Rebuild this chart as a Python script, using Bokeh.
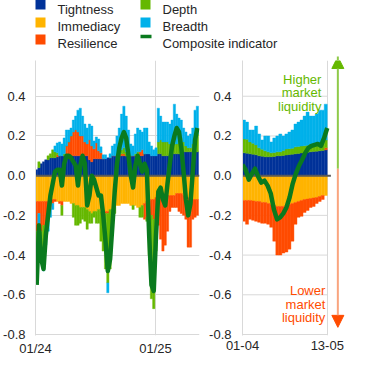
import numpy as np
import pandas as pd
from bokeh.plotting import figure
from bokeh.layouts import column, row
from bokeh.models import (Range1d, FixedTicker, PrintfTickFormatter, DatetimeTickFormatter,
                          Label, Arrow, NormalHead)
from bokeh.embed import file_html
from bokeh.resources import INLINE
from bokeh.core.properties import value

# ---------------- data ----------------
series_names = ["Tightness", "Immediacy", "Resilience", "Depth", "Breadth"]
series_colors = ["#003299", "#ffb400", "#ff4b00", "#65b800", "#00b1ea"]
composite_name = "Composite indicator"
composite_color = "#0a7a1e"

# left panel: weekly values, weeks starting 2024-01-01
left_first_week = "2024-01-01"
tightness_l = [0.03, 0.04, 0.06, 0.07, 0.08, 0.08, 0.09, 0.09, 0.09, 0.095,
               0.1, 0.1, 0.1, 0.1, 0.1, 0.1, 0.1, 0.1, 0.1, 0.1,
               0.1, 0.1, 0.1, 0.08, 0.07, 0.085, 0.085, 0.085, 0.085, 0.085,
               0.085, 0.09, 0.09, 0.1, 0.1, 0.1, 0.1, 0.1, 0.1, 0.1,
               0.1, 0.1, 0.1, 0.1, 0.1, 0.1, 0.1, 0.11, 0.11, 0.11,
               0.1, 0.1, 0.1, 0.11, 0.11, 0.1, 0.1, 0.1, 0.1, 0.11,
               0.11, 0.11, 0.11, 0.11, 0.12, 0.12, 0.12, 0.12, 0.12, 0.12, 0.12]
immediacy_l = [-0.13, -0.13, -0.13, -0.13, -0.13, -0.13, -0.12, -0.12, -0.12, -0.13,
               -0.13, -0.13, -0.13, -0.13, -0.13, -0.14, -0.14, -0.15, -0.15, -0.16,
               -0.16, -0.16, -0.17, -0.18, -0.19, -0.18, -0.18, -0.17, -0.18, -0.18,
               -0.18, -0.18, -0.17, -0.17, -0.16, -0.15, -0.15, -0.14, -0.14, -0.14,
               -0.14, -0.15, -0.15, -0.15, -0.16, -0.16, -0.15, -0.14, -0.13, -0.13,
               -0.12, -0.12, -0.11, -0.1, -0.1, -0.1, -0.1, -0.1, -0.1, -0.1,
               -0.1, -0.09, -0.09, -0.09, -0.1, -0.1, -0.11, -0.11, -0.12, -0.12, -0.12]
resilience_l = [-0.15, -0.06, -0.15, -0.12, -0.12, -0.1, -0.05, -0.02, -0.01, 0.01,
                -0.01, -0.02, 0.0, 0.05, 0.07, 0.1, 0.12, 0.13, 0.12, 0.1,
                0.1, 0.07, 0.06, 0.1, 0.08, 0.05, 0.08, 0.04, 0.03, 0.0,
                -0.01, -0.01, 0.0, 0.0, 0.0, 0.0, 0.0, 0.01, 0.01, 0.0,
                0.0, 0.0, 0.0, 0.0, 0.0, 0.02, 0.03, -0.08, -0.08, -0.07,
                -0.08, -0.1, -0.15, -0.15, -0.22, -0.28, -0.25, -0.18, -0.08, -0.06,
                -0.06, -0.07, -0.09, -0.1, -0.1, -0.12, -0.25, -0.25, -0.1, -0.09, -0.08]
depth_l = [-0.2, 0.03, -0.1, -0.13, -0.05, 0.02, 0.02, 0.04, 0.03, 0.01,
           0.0, -0.05, 0.01, 0.0, 0.0, 0.0, -0.07, -0.1, -0.1, -0.08,
           -0.06, -0.07, -0.1, -0.06, -0.05, -0.03, -0.06, -0.07, -0.15, -0.2,
           -0.28, -0.35, -0.3, -0.1, -0.03, 0.0, 0.01, 0.02, 0.03, 0.02,
           0.01, 0.0, -0.02, 0.01, 0.02, -0.05, -0.06, 0.0, -0.02, -0.2,
           -0.42, -0.45, -0.12, 0.06, 0.07, 0.07, 0.07, 0.07, 0.06, 0.05,
           0.05, 0.05, 0.08, 0.08, 0.05, 0.03, 0.02, 0.02, 0.04, 0.09, 0.09]
breadth_l = [-0.05, -0.05, -0.05, -0.1, -0.05, -0.05, -0.04, -0.03, 0.03, 0.05,
             0.07, 0.06, 0.08, 0.08, 0.06, 0.04, 0.06, 0.07, 0.11, 0.14,
             0.1, 0.09, 0.08, 0.08, 0.1, 0.04, 0.03, 0.06, 0.03, 0.02,
             0.02, -0.05, 0.02, 0.05, 0.06, 0.1, 0.13, 0.18, 0.21, 0.18,
             0.12, 0.06, 0.05, 0.1, 0.12, 0.11, 0.09, 0.13, 0.13, 0.06,
             0.05, 0.03, 0.04, 0.17, 0.12, 0.1, 0.1, 0.1, 0.1, 0.12,
             0.2, 0.15, 0.1, 0.09, 0.07, 0.07, 0.06, 0.07, 0.08, 0.12, 0.14]
composite_l = [-0.55, -0.25, -0.42, -0.47, -0.3, -0.2, -0.1, -0.04, 0.02, 0.03,
               0.03, -0.05, 0.06, 0.1, 0.1, 0.09, 0.07, 0.05, -0.05, 0.05,
               0.1, 0.06, -0.15, -0.1, 0.0, -0.02, -0.06, -0.1, -0.1, -0.2,
               -0.33, -0.48, -0.42, -0.25, -0.08, 0.06, 0.14, 0.19, 0.22, 0.19,
               0.1, 0.0, -0.06, 0.05, 0.1, 0.06, 0.02, 0.06, 0.03, -0.3,
               -0.55, -0.58, -0.3, -0.08, -0.06, -0.12, -0.15, -0.04, 0.06, 0.15,
               0.2, 0.24, 0.22, 0.14, 0.02, -0.12, -0.2, -0.14, 0.02, 0.18, 0.24]
left_ticks = ["2024-01-01", "2025-01-01"]

# right panel: business days 01-04-2025 .. 13-05-2025 (TARGET closing days excluded)
right_first_day = "2025-04-01"
right_last_day = "2025-05-13"
right_closed_days = ["2025-04-18", "2025-04-21", "2025-05-01"]
tightness_r = [0.115, 0.113, 0.11, 0.108, 0.105, 0.1, 0.098, 0.095, 0.095, 0.095,
               0.097, 0.1, 0.1, 0.102, 0.104, 0.106, 0.108, 0.11, 0.112, 0.114,
               0.116, 0.118, 0.12, 0.122, 0.123, 0.125, 0.127, 0.13]
immediacy_r = [-0.125, -0.125, -0.125, -0.127, -0.13, -0.13, -0.135, -0.135, -0.14, -0.145,
               -0.15, -0.155, -0.155, -0.155, -0.15, -0.145, -0.14, -0.135, -0.13, -0.125,
               -0.12, -0.118, -0.115, -0.112, -0.11, -0.105, -0.1, -0.1]
resilience_r = [-0.105, -0.12, -0.095, -0.098, -0.1, -0.105, -0.105, -0.105, -0.105, -0.115,
                -0.18, -0.245, -0.245, -0.235, -0.235, -0.225, -0.19, -0.11, -0.08, -0.08,
                -0.065, -0.057, -0.045, -0.043, -0.03, -0.025, -0.02, 0.01]
depth_r = [0.07, 0.07, 0.06, 0.055, 0.05, 0.04, 0.035, 0.03, 0.025, 0.02,
           0.02, 0.02, 0.02, 0.025, 0.03, 0.03, 0.03, 0.035, 0.035, 0.035,
           0.035, 0.035, 0.04, 0.04, 0.04, 0.04, 0.04, 0.04]
breadth_r = [0.095, 0.087, 0.06, 0.067, 0.095, 0.07, 0.047, 0.075, 0.08, 0.055,
             0.073, 0.08, 0.09, 0.073, 0.076, 0.084, 0.092, 0.115, 0.123, 0.131,
             0.149, 0.167, 0.14, 0.138, 0.147, 0.165, 0.163, 0.18]
composite_r = [0.055, 0.03, -0.02, 0.01, 0.035, -0.005, -0.035, -0.025, -0.05, -0.09,
               -0.17, -0.22, -0.21, -0.19, -0.16, -0.11, -0.04, 0.01, 0.05, 0.08,
               0.115, 0.14, 0.15, 0.155, 0.16, 0.15, 0.19, 0.24]

y_ticks = [-0.8, -0.6, -0.4, -0.2, 0.0, 0.2, 0.4]
higher_text = ["Higher", "market", "liquidity"]
lower_text = ["Lower", "market", "liquidity"]

# ---------------- styling ----------------
FONT = "Liberation Sans"
FS = "13px"
TXT = "#262626"
GRID = "#d9d9d9"
ZERO = "#595959"
GREEN_TXT = "#65b800"
ORANGE_TXT = "#ff4b00"
PANEL_H = 306


def stack(components):
    pos = np.zeros(len(components[0]))
    neg = np.zeros(len(components[0]))
    out = []
    for comp in components:
        v = np.asarray(comp, dtype=float)
        bottom = np.where(v >= 0, pos, neg + v)
        top = np.where(v >= 0, pos + v, neg)
        pos = pos + np.where(v >= 0, v, 0)
        neg = neg + np.where(v < 0, v, 0)
        out.append((bottom, top))
    return out


def style_axes(p, standoff):
    p.outline_line_color = None
    p.yaxis.ticker = FixedTicker(ticks=y_ticks)
    p.yaxis.formatter = PrintfTickFormatter(format="%.1f")
    for ax in (p.xaxis[0], p.yaxis[0]):
        ax.major_tick_line_color = None
        ax.minor_tick_line_color = None
        ax.major_tick_out = 0
        ax.major_tick_in = 0
        ax.minor_tick_out = 0
        ax.minor_tick_in = 0
        ax.major_label_text_font = FONT
        ax.major_label_text_font_size = FS
        ax.major_label_text_color = TXT
    p.yaxis.major_label_standoff = standoff
    p.xaxis.major_label_standoff = 5
    p.xaxis.axis_line_color = None
    p.yaxis.axis_line_color = GRID
    p.xgrid.grid_line_color = GRID
    p.ygrid.grid_line_color = GRID


# ---------------- legend strip ----------------
leg = figure(width=354, height=54, x_range=Range1d(8, 362), y_range=Range1d(56, 2),
             output_backend="svg", toolbar_location=None, min_border=0)
leg.axis.visible = False
leg.grid.visible = False
leg.outline_line_color = None
col_x = [48, 48, 48, 153, 153]
row_y = [8, 26, 43, 8, 26]
leg.rect(x=col_x, y=row_y, width=10, height=10, fill_color=series_colors, line_color=None)
leg.segment(x0=[148], x1=[159], y0=[40], y1=[40], line_color=composite_color, line_width=3.5)
legend_labels = series_names + [composite_name]
lx = [65, 65, 65, 170, 170, 170]
ly = [12.7, 30.3, 46.7, 12.7, 30.3, 46.7]
leg.text(x=lx, y=ly, text=legend_labels, text_font=value(FONT), text_font_size=FS,
         text_color=TXT, text_baseline="alphabetic", text_align="left")

# ---------------- left panel ----------------
week_start = pd.date_range(left_first_week, periods=len(composite_l), freq="7D")
week_end = week_start + pd.Timedelta(days=7)
week_mid = week_start + pd.Timedelta(days=3.5)
x_start = pd.Timestamp(left_ticks[0])
x_end = x_start + pd.Timedelta(days=500)

pl = figure(width=206, height=PANEL_H, x_axis_type="datetime",
            x_range=Range1d(x_start, x_end), y_range=Range1d(-0.805, 0.58),
            output_backend="svg", toolbar_location=None,
            min_border_left=35, min_border_right=7, min_border_top=8, min_border_bottom=20)
style_axes(pl, 10)
tick_ms = [pd.Timestamp(t).value / 1e6 for t in left_ticks]
pl.xaxis.ticker = FixedTicker(ticks=tick_ms)
pl.xgrid.ticker = FixedTicker(ticks=tick_ms)
pl.ygrid.ticker = FixedTicker(ticks=y_ticks)
pl.xaxis.formatter = DatetimeTickFormatter(years="%m/%y", months="%m/%y", days="%m/%y",
                                           hours="%m/%y", hourmin="%m/%y")

left_data = [tightness_l, immediacy_l, resilience_l, depth_l, breadth_l]
for (b, t), c in zip(stack(left_data), series_colors):
    pl.quad(left=week_start, right=week_end, bottom=b, top=t, fill_color=c,
            line_color=c, line_width=0.4)
pl.segment(x0=[week_start[0]], x1=[x_end], y0=[0], y1=[0], line_color=ZERO, line_width=2)
pl.line(x=week_mid, y=composite_l, line_color=composite_color, line_width=4.5,
        line_join="round")

# ---------------- right panel ----------------
days = pd.bdate_range(right_first_day, right_last_day)
days = days[~days.isin(pd.to_datetime(right_closed_days))]
n = len(days)
idx = np.arange(n)

pr = figure(width=148, height=PANEL_H, x_range=Range1d(-0.5, 36.5), y_range=Range1d(-0.805, 0.58),
            output_backend="svg", toolbar_location=None,
            min_border_left=33, min_border_right=0, min_border_top=8, min_border_bottom=20)
style_axes(pr, 11)
edge_ticks = [-0.5, n - 0.5]
pr.xaxis.ticker = FixedTicker(ticks=edge_ticks)
pr.xgrid.ticker = FixedTicker(ticks=edge_ticks)
pr.xaxis.major_label_overrides = {edge_ticks[0]: days[0].strftime("%d-%m"),
                                  edge_ticks[1]: days[-1].strftime("%d-%m")}
pr.ygrid.visible = False
pr.segment(x0=[edge_ticks[0]] * len(y_ticks), x1=[edge_ticks[1]] * len(y_ticks),
           y0=y_ticks, y1=y_ticks, line_color=GRID, line_width=1)

right_data = [tightness_r, immediacy_r, resilience_r, depth_r, breadth_r]
for (b, t), c in zip(stack(right_data), series_colors):
    pr.quad(left=idx - 0.5, right=idx + 0.5, bottom=b, top=t, fill_color=c,
            line_color=c, line_width=0.4)
pr.segment(x0=[edge_ticks[0]], x1=[edge_ticks[1] + 1.2], y0=[0], y1=[0],
           line_color=ZERO, line_width=2)
pr.line(x=np.linspace(edge_ticks[0], edge_ticks[1], n), y=composite_r,
        line_color=composite_color, line_width=4.5, line_join="round")

# arrow and texts
arrow_x = 31.0
pr.add_layout(Arrow(end=NormalHead(size=12, fill_color="#65b800", line_color="#65b800"),
                    x_start=arrow_x, y_start=0.035, x_end=arrow_x, y_end=0.60,
                    line_color="#8fca4a", line_width=2))
pr.add_layout(Arrow(end=NormalHead(size=12, fill_color="#ff4b00", line_color="#ff4b00"),
                    x_start=arrow_x, y_start=0.035, x_end=arrow_x, y_end=-0.764,
                    line_color="#f9a57f", line_width=2))
for txt, yy in zip(higher_text, [0.485, 0.417, 0.346]):
    pr.add_layout(Label(x=25.57, y=yy, text=txt, text_align="right", text_baseline="alphabetic",
                        text_color=GREEN_TXT, text_font=FONT, text_font_size=FS))
for txt, yy in zip(lower_text, [-0.576, -0.647, -0.715]):
    pr.add_layout(Label(x=26.86, y=yy, text=txt, text_align="right", text_baseline="alphabetic",
                        text_color=ORANGE_TXT, text_font=FONT, text_font_size=FS))

layout = column(leg, row(pl, pr), margin=(-2, 0, 0, 0))
open("out.html", "w").write(file_html(layout, INLINE))
